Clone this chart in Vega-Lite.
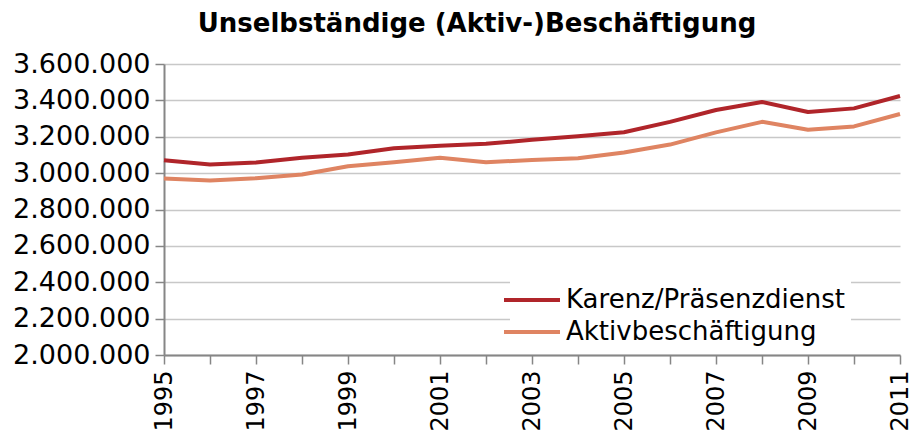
{
  "$schema": "https://vega.github.io/schema/vega-lite/v6.json",
  "autosize": {"type": "none"},
  "width": 736,
  "height": 291,
  "padding": {"left": 164, "top": 64, "right": 13, "bottom": 83},
  "background": "white",
  "config": {
    "font": "DejaVu Sans",
    "view": {"stroke": null},
    "axis": {"labelFont": "DejaVu Sans", "labelColor": "#000000", "labelFontSize": 24}
  },
  "title": {
    "text": "Unselbständige (Aktiv-)Beschäftigung",
    "font": "DejaVu Sans",
    "fontSize": 26,
    "fontWeight": "bold",
    "color": "#000000",
    "anchor": "middle",
    "dx": -55,
    "offset": 13
  },
  "data": {
    "values": [
      {"year": 1995, "series": "Karenz/Präsenzdienst", "value": 3071000},
      {"year": 1996, "series": "Karenz/Präsenzdienst", "value": 3047000},
      {"year": 1997, "series": "Karenz/Präsenzdienst", "value": 3058000},
      {"year": 1998, "series": "Karenz/Präsenzdienst", "value": 3084000},
      {"year": 1999, "series": "Karenz/Präsenzdienst", "value": 3102000},
      {"year": 2000, "series": "Karenz/Präsenzdienst", "value": 3137000},
      {"year": 2001, "series": "Karenz/Präsenzdienst", "value": 3150000},
      {"year": 2002, "series": "Karenz/Präsenzdienst", "value": 3161000},
      {"year": 2003, "series": "Karenz/Präsenzdienst", "value": 3183000},
      {"year": 2004, "series": "Karenz/Präsenzdienst", "value": 3203000},
      {"year": 2005, "series": "Karenz/Präsenzdienst", "value": 3225000},
      {"year": 2006, "series": "Karenz/Präsenzdienst", "value": 3282000},
      {"year": 2007, "series": "Karenz/Präsenzdienst", "value": 3347000},
      {"year": 2008, "series": "Karenz/Präsenzdienst", "value": 3391000},
      {"year": 2009, "series": "Karenz/Präsenzdienst", "value": 3336000},
      {"year": 2010, "series": "Karenz/Präsenzdienst", "value": 3356000},
      {"year": 2011, "series": "Karenz/Präsenzdienst", "value": 3424000},
      {"year": 1995, "series": "Aktivbeschäftigung", "value": 2970000},
      {"year": 1996, "series": "Aktivbeschäftigung", "value": 2959000},
      {"year": 1997, "series": "Aktivbeschäftigung", "value": 2972000},
      {"year": 1998, "series": "Aktivbeschäftigung", "value": 2992000},
      {"year": 1999, "series": "Aktivbeschäftigung", "value": 3038000},
      {"year": 2000, "series": "Aktivbeschäftigung", "value": 3060000},
      {"year": 2001, "series": "Aktivbeschäftigung", "value": 3084000},
      {"year": 2002, "series": "Aktivbeschäftigung", "value": 3060000},
      {"year": 2003, "series": "Aktivbeschäftigung", "value": 3072000},
      {"year": 2004, "series": "Aktivbeschäftigung", "value": 3082000},
      {"year": 2005, "series": "Aktivbeschäftigung", "value": 3113000},
      {"year": 2006, "series": "Aktivbeschäftigung", "value": 3157000},
      {"year": 2007, "series": "Aktivbeschäftigung", "value": 3224000},
      {"year": 2008, "series": "Aktivbeschäftigung", "value": 3282000},
      {"year": 2009, "series": "Aktivbeschäftigung", "value": 3238000},
      {"year": 2010, "series": "Aktivbeschäftigung", "value": 3257000},
      {"year": 2011, "series": "Aktivbeschäftigung", "value": 3325000}
    ]
  },
  "mark": {"type": "line", "strokeWidth": 4, "strokeJoin": "round"},
  "encoding": {
    "x": {
      "field": "year",
      "type": "quantitative",
      "scale": {"domain": [1995, 2011], "nice": false, "zero": false},
      "axis": {
        "title": null,
        "values": [1995, 1996, 1997, 1998, 1999, 2000, 2001, 2002, 2003, 2004, 2005, 2006, 2007, 2008, 2009, 2010, 2011],
        "labelExpr": "datum.value % 2 == 1 ? datum.value : ''",
        "format": "d",
        "labelAngle": -90,
        "labelAlign": "right",
        "labelBaseline": "middle",
        "labelPadding": 6,
        "labelFlush": false,
        "labelOverlap": false,
        "labelBound": false,
        "grid": false,
        "domainColor": "#868686",
        "domainWidth": 2,
        "tickColor": "#868686",
        "tickWidth": 1.5,
        "tickSize": 9
      }
    },
    "y": {
      "field": "value",
      "type": "quantitative",
      "scale": {"domain": [2000000, 3600000], "nice": false, "zero": false},
      "axis": {
        "title": null,
        "values": [2000000, 2200000, 2400000, 2600000, 2800000, 3000000, 3200000, 3400000, 3600000],
        "labelExpr": "replace(format(datum.value, ',d'), /,/g, '.')",
        "labelFontSize": 27,
        "labelPadding": 5,
        "labelFlush": false,
        "gridColor": "#C8C8C8",
        "gridWidth": 1.5,
        "domainColor": "#868686",
        "domainWidth": 2,
        "tickColor": "#868686",
        "tickWidth": 1.5,
        "tickSize": 9
      }
    },
    "color": {
      "field": "series",
      "type": "nominal",
      "sort": ["Karenz/Präsenzdienst", "Aktivbeschäftigung"],
      "scale": {"domain": ["Karenz/Präsenzdienst", "Aktivbeschäftigung"], "range": ["#B0252A", "#DF8462"]},
      "legend": {
        "title": null,
        "orient": "none",
        "legendX": 346,
        "legendY": 214,
        "symbolType": "M-2,0H2",
        "symbolSize": 784,
        "symbolStrokeWidth": 4,
        "labelFontSize": 26,
        "labelFont": "DejaVu Sans",
        "labelColor": "#000000",
        "labelLimit": 400,
        "labelOffset": 18,
        "rowPadding": 3,
        "fillColor": "white",
        "padding": 6
      }
    }
  }
}
